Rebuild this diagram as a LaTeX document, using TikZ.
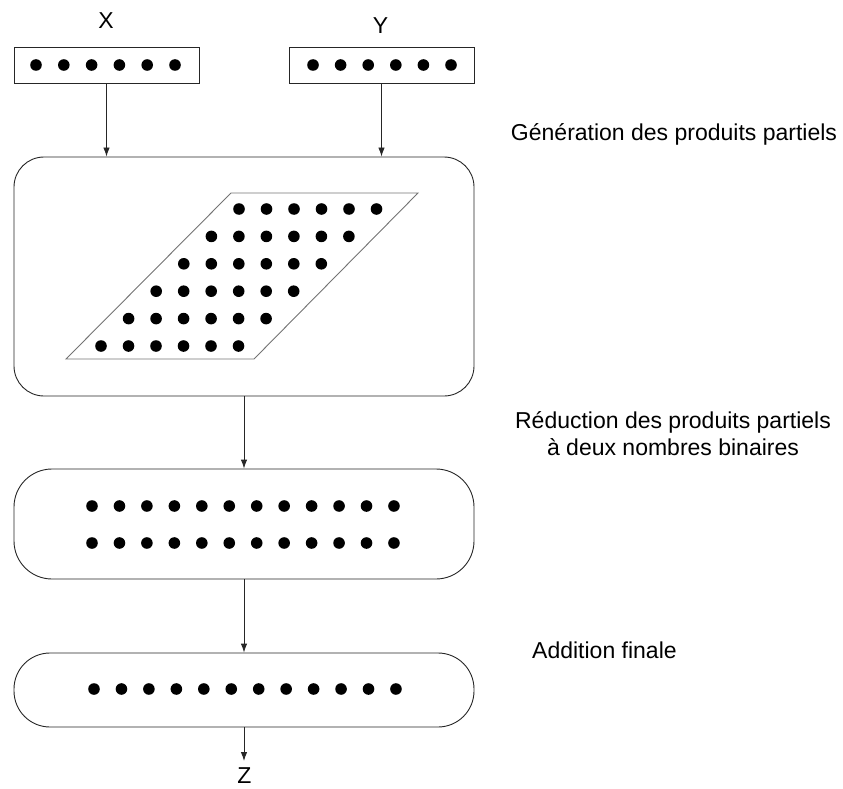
\documentclass[tikz,border=0pt]{standalone}
\usepackage{fontspec}
\setmainfont{Liberation Sans}
\usetikzlibrary{arrows.meta}
\begin{document}
\begin{tikzpicture}[x=1pt,y=-1pt,
  boxline/.style={draw=black!85,line width=0.9pt},
  inbox/.style={boxline,minimum width=185pt,minimum height=36pt,inner sep=0pt},
  stagebox/.style={boxline,minimum width=460pt,inner sep=0pt},
  conn/.style={draw=black!85,line width=0.9pt,-{Latex[length=9pt,width=6.5pt]}},
  lbl/.style={font=\fontsize{23}{27}\selectfont,inner sep=0pt},
  dot/.style={fill=black}]
\useasboundingbox (0,0) rectangle (843,789);
% input boxes
\node[inbox] (xbox) at (106.5,65) {};
\node[inbox] (ybox) at (381.5,65) {};
\node[lbl,anchor=base] (xl) at (106,29) {X};
\node[lbl,anchor=base] (yl) at (380.5,34) {Y};
\foreach \j in {0,...,5} {
  \fill[dot] (36+27.8*\j,65) circle[radius=5.8pt];
  \fill[dot] (313+27.6*\j,65) circle[radius=5.8pt];
}
% stage boxes
\node[stagebox,minimum height=239pt,rounded corners=30pt] (pp) at (244,276.5) {};
\node[stagebox,minimum height=110pt,rounded corners=38pt] (red) at (244,524) {};
\node[stagebox,minimum height=74pt,rounded corners=36pt] (fin) at (244,690) {};
% parallelogram
\draw[draw=black!55,line width=0.9pt] (231,193) -- (418,193) -- (254,359) -- (66,359) -- cycle;
\foreach \i in {0,...,5} {
  \foreach \j in {0,...,5} {
    \fill[dot] (239-27.6*\i+27.5*\j,209+27.4*\i) circle[radius=5.8pt];
  }
}
% reduction and final dots
\foreach \j in {0,...,11} {
  \fill[dot] (92+27.45*\j,506) circle[radius=5.8pt];
  \fill[dot] (92+27.45*\j,543) circle[radius=5.8pt];
  \fill[dot] (94+27.45*\j,689) circle[radius=5.8pt];
}
% connectors
\draw[conn] (xbox.south) -- (xbox.south |- pp.north);
\draw[conn] (ybox.south) -- (ybox.south |- pp.north);
\draw[conn] (pp.south) -- (red.north);
\draw[conn] (red.south) -- (fin.north);
\coordinate (zend) at (244,761);
\draw[conn] (fin.south) -- (zend);
\node[lbl,anchor=base] (zl) at (244.5,783.5) {Z};
% right labels
\node[lbl,anchor=base] (gen) at (674,141) {Génération des produits partiels};
\node[lbl,anchor=base] (red1) at (673,428) {Réduction des produits partiels};
\node[lbl,anchor=base] (red2) at (673,455) {à deux nombres binaires};
\node[lbl,anchor=base west] (add) at (532,658) {Addition finale};
\end{tikzpicture}
\end{document}
